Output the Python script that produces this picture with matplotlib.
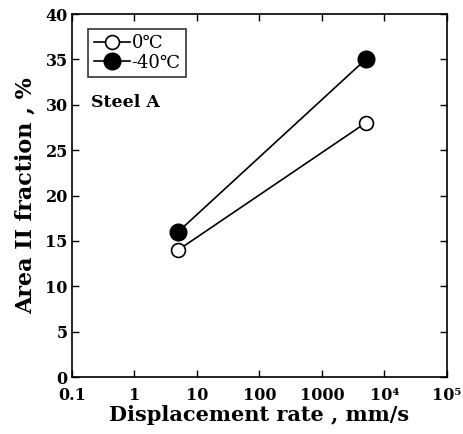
import matplotlib
matplotlib.use("Agg")
import matplotlib.pyplot as plt

# data
rate = [5, 5000]
frac_0c = [14, 28]
frac_m40c = [16, 35]
xticks = [0.1, 1, 10, 100, 1000, 1e4, 1e5]
xticklabels = ["0.1", "1", "10", "100", "1000", "10\u2074", "10\u2075"]
yticks = [0, 5, 10, 15, 20, 25, 30, 35, 40]

plt.rcParams["font.family"] = ["DejaVu Serif"]

fig = plt.figure(figsize=(4.63, 4.34), dpi=100)
ax = fig.add_axes([0.1555, 0.1313, 0.8099, 0.8364])

ax.plot(rate, frac_0c, "-o", color="black", lw=1.2, ms=10,
        mfc="white", mec="black", mew=1.2, label="0\u2103")
ax.plot(rate, frac_m40c, "-o", color="black", lw=1.2, ms=12,
        mfc="black", mec="black", label="-40\u2103")

ax.set_xscale("log")
ax.set_xlim(0.1, 1e5)
ax.set_ylim(0, 40)
ax.set_xticks(xticks)
ax.set_xticklabels(xticklabels)
ax.set_yticks(yticks)
ax.minorticks_off()
ax.tick_params(direction="in", top=True, right=True, length=5, width=1,
               labelsize=11.5, pad=3)
ax.tick_params(axis="x", pad=7)
for lbl in ax.get_xticklabels() + ax.get_yticklabels():
    lbl.set_fontweight("bold")
for s in ax.spines.values():
    s.set_linewidth(1.2)

ax.set_xlabel("Displacement rate , mm/s", fontsize=15, fontweight="bold",
              labelpad=1)
ax.set_ylabel("Area II fraction , %", fontsize=16, fontweight="bold",
              labelpad=6)

ax.text(0.05, 0.755, "Steel A", transform=ax.transAxes, fontsize=12.5,
        fontweight="bold", ha="left", va="center")

leg = ax.legend(loc="upper left", bbox_to_anchor=(0.043, 0.96), fontsize=13,
                frameon=True, fancybox=False, edgecolor="black",
                handlelength=2.0, handletextpad=0.1, borderpad=0.3,
                labelspacing=0.1, borderaxespad=0)
leg.get_frame().set_linewidth(1.2)

fig.savefig("out.png", dpi=100)
